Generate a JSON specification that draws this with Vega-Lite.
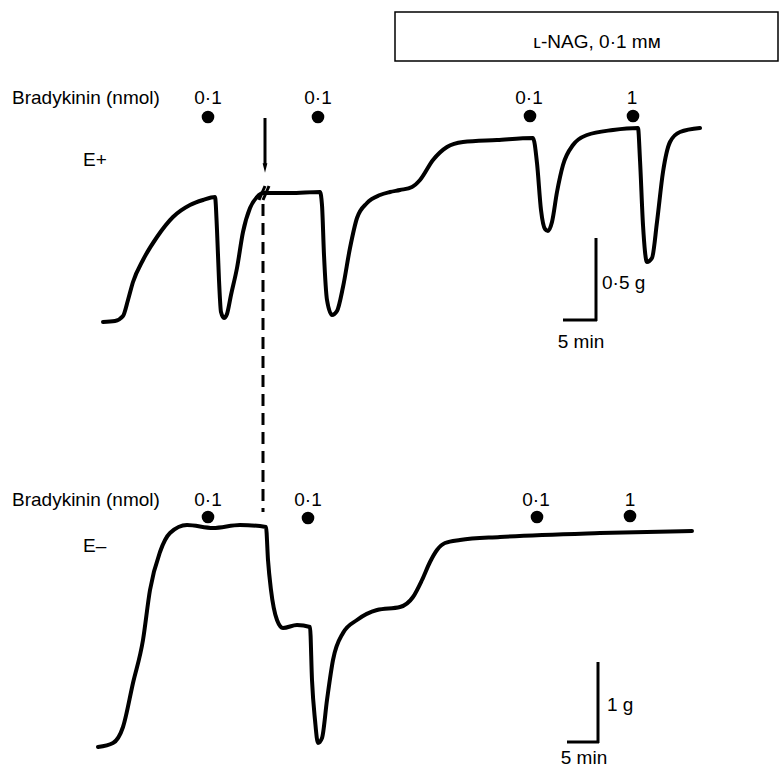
{
  "$schema": "https://vega.github.io/schema/vega-lite/v6.json",
  "width": 780,
  "height": 768,
  "autosize": {"type": "none"},
  "padding": 0,
  "background": "white",
  "config": {"view": {"stroke": null}, "text": {"font": "Liberation Sans", "fontSize": 19, "color": "black"}},
  "datasets": {
    "trace": [
      {"s": "E+", "i": 1, "t": 103, "v": 322}, {"s": "E+", "i": 2, "t": 115, "v": 321}, {"s": "E+", "i": 3, "t": 123, "v": 316}, {"s": "E+", "i": 4, "t": 128, "v": 300}, {"s": "E+", "i": 5, "t": 133, "v": 282}, {"s": "E+", "i": 6, "t": 143, "v": 260}, {"s": "E+", "i": 7, "t": 157, "v": 237}, {"s": "E+", "i": 8, "t": 173, "v": 217}, {"s": "E+", "i": 9, "t": 190, "v": 205}, {"s": "E+", "i": 10, "t": 203, "v": 200}, {"s": "E+", "i": 11, "t": 215, "v": 197}, {"s": "E+", "i": 12, "t": 217, "v": 230}, {"s": "E+", "i": 13, "t": 219, "v": 280}, {"s": "E+", "i": 14, "t": 221, "v": 312}, {"s": "E+", "i": 15, "t": 224, "v": 318}, {"s": "E+", "i": 16, "t": 227, "v": 314}, {"s": "E+", "i": 17, "t": 231, "v": 295}, {"s": "E+", "i": 18, "t": 237, "v": 268}, {"s": "E+", "i": 19, "t": 243, "v": 232}, {"s": "E+", "i": 20, "t": 250, "v": 208}, {"s": "E+", "i": 21, "t": 257, "v": 197}, {"s": "E+", "i": 22, "t": 263, "v": 193}, {"s": "E+", "i": 23, "t": 270, "v": 193}, {"s": "E+", "i": 24, "t": 290, "v": 193}, {"s": "E+", "i": 25, "t": 320, "v": 192}, {"s": "E+", "i": 26, "t": 322, "v": 205}, {"s": "E+", "i": 27, "t": 324, "v": 255}, {"s": "E+", "i": 28, "t": 327, "v": 300}, {"s": "E+", "i": 29, "t": 332, "v": 315}, {"s": "E+", "i": 30, "t": 337, "v": 311}, {"s": "E+", "i": 31, "t": 343, "v": 287}, {"s": "E+", "i": 32, "t": 350, "v": 248}, {"s": "E+", "i": 33, "t": 357, "v": 218}, {"s": "E+", "i": 34, "t": 367, "v": 203}, {"s": "E+", "i": 35, "t": 380, "v": 195}, {"s": "E+", "i": 36, "t": 390, "v": 192}, {"s": "E+", "i": 37, "t": 400, "v": 190}, {"s": "E+", "i": 38, "t": 412, "v": 187}, {"s": "E+", "i": 39, "t": 420, "v": 180}, {"s": "E+", "i": 40, "t": 433, "v": 160}, {"s": "E+", "i": 41, "t": 447, "v": 147}, {"s": "E+", "i": 42, "t": 463, "v": 142}, {"s": "E+", "i": 43, "t": 497, "v": 140}, {"s": "E+", "i": 44, "t": 533, "v": 138}, {"s": "E+", "i": 45, "t": 537, "v": 163}, {"s": "E+", "i": 46, "t": 541, "v": 210}, {"s": "E+", "i": 47, "t": 545, "v": 229}, {"s": "E+", "i": 48, "t": 548, "v": 231}, {"s": "E+", "i": 49, "t": 552, "v": 222}, {"s": "E+", "i": 50, "t": 557, "v": 192}, {"s": "E+", "i": 51, "t": 563, "v": 165}, {"s": "E+", "i": 52, "t": 573, "v": 145}, {"s": "E+", "i": 53, "t": 587, "v": 135}, {"s": "E+", "i": 54, "t": 613, "v": 130}, {"s": "E+", "i": 55, "t": 638, "v": 128}, {"s": "E+", "i": 56, "t": 640, "v": 160}, {"s": "E+", "i": 57, "t": 643, "v": 225}, {"s": "E+", "i": 58, "t": 647, "v": 262}, {"s": "E+", "i": 59, "t": 652, "v": 258}, {"s": "E+", "i": 60, "t": 657, "v": 222}, {"s": "E+", "i": 61, "t": 663, "v": 172}, {"s": "E+", "i": 62, "t": 670, "v": 142}, {"s": "E+", "i": 63, "t": 680, "v": 132}, {"s": "E+", "i": 64, "t": 700, "v": 128},
      {"s": "E-", "i": 1, "t": 98, "v": 747}, {"s": "E-", "i": 2, "t": 113, "v": 743}, {"s": "E-", "i": 3, "t": 123, "v": 727}, {"s": "E-", "i": 4, "t": 133, "v": 683}, {"s": "E-", "i": 5, "t": 143, "v": 640}, {"s": "E-", "i": 6, "t": 150, "v": 590}, {"s": "E-", "i": 7, "t": 160, "v": 552}, {"s": "E-", "i": 8, "t": 170, "v": 533}, {"s": "E-", "i": 9, "t": 187, "v": 525}, {"s": "E-", "i": 10, "t": 213, "v": 528}, {"s": "E-", "i": 11, "t": 240, "v": 525}, {"s": "E-", "i": 12, "t": 266, "v": 527}, {"s": "E-", "i": 13, "t": 268, "v": 560}, {"s": "E-", "i": 14, "t": 271, "v": 590}, {"s": "E-", "i": 15, "t": 277, "v": 620}, {"s": "E-", "i": 16, "t": 283, "v": 628}, {"s": "E-", "i": 17, "t": 297, "v": 625}, {"s": "E-", "i": 18, "t": 310, "v": 627}, {"s": "E-", "i": 19, "t": 312, "v": 680}, {"s": "E-", "i": 20, "t": 315, "v": 720}, {"s": "E-", "i": 21, "t": 318, "v": 743}, {"s": "E-", "i": 22, "t": 322, "v": 738}, {"s": "E-", "i": 23, "t": 327, "v": 700}, {"s": "E-", "i": 24, "t": 333, "v": 660}, {"s": "E-", "i": 25, "t": 343, "v": 633}, {"s": "E-", "i": 26, "t": 357, "v": 620}, {"s": "E-", "i": 27, "t": 377, "v": 610}, {"s": "E-", "i": 28, "t": 400, "v": 607}, {"s": "E-", "i": 29, "t": 413, "v": 597}, {"s": "E-", "i": 30, "t": 422, "v": 580}, {"s": "E-", "i": 31, "t": 430, "v": 562}, {"s": "E-", "i": 32, "t": 437, "v": 550}, {"s": "E-", "i": 33, "t": 445, "v": 543}, {"s": "E-", "i": 34, "t": 460, "v": 540}, {"s": "E-", "i": 35, "t": 500, "v": 537}, {"s": "E-", "i": 36, "t": 600, "v": 533}, {"s": "E-", "i": 37, "t": 692, "v": 531}
    ],
    "segments": [
      {"k": "bar", "t": 596, "v": 238, "t2": 596, "v2": 321},
      {"k": "bar", "t": 563, "v": 320, "t2": 597, "v2": 320},
      {"k": "bar", "t": 598, "v": 662, "t2": 598, "v2": 743},
      {"k": "bar", "t": 567, "v": 742, "t2": 599, "v2": 742},
      {"k": "bar", "t": 265, "v": 118, "t2": 265, "v2": 165},
      {"k": "brk", "t": 259, "v": 200, "t2": 265, "v2": 186},
      {"k": "brk", "t": 263, "v": 200, "t2": 269, "v2": 186}
    ],
    "dash": [{"t": 263, "v": 204, "t2": 263, "v2": 512}],
    "dots": [
      {"t": 208, "v": 117}, {"t": 318, "v": 117}, {"t": 530, "v": 116}, {"t": 633, "v": 116},
      {"t": 208, "v": 517}, {"t": 308, "v": 518}, {"t": 537, "v": 517}, {"t": 630, "v": 516}
    ],
    "leftLabels": [
      {"txt": "Bradykinin (nmol)", "t": 12, "v": 98},
      {"txt": "Bradykinin (nmol)", "t": 12, "v": 500},
      {"txt": "E+", "t": 83, "v": 160},
      {"txt": "E–", "t": 83, "v": 546},
      {"txt": "0·5 g", "t": 602, "v": 283},
      {"txt": "1 g", "t": 607, "v": 705}
    ],
    "centerLabels": [
      {"txt": "0·1", "t": 208, "v": 98},
      {"txt": "0·1", "t": 318, "v": 98},
      {"txt": "0·1", "t": 529, "v": 98},
      {"txt": "1", "t": 632, "v": 98},
      {"txt": "0·1", "t": 208, "v": 500},
      {"txt": "0·1", "t": 308, "v": 500},
      {"txt": "0·1", "t": 536, "v": 500},
      {"txt": "1", "t": 630, "v": 500},
      {"txt": "5 min", "t": 581, "v": 342},
      {"txt": "5 min", "t": 584, "v": 758},
      {"txt": "ʟ-NAG, 0·1 mᴍ", "t": 597, "v": 42}
    ],
    "box": [{"t": 395, "v": 12, "t2": 778, "v2": 61}]
  },
  "layer": [
    {
      "data": {"name": "box"},
      "mark": {"type": "rect", "fill": null, "stroke": "black", "strokeWidth": 1.5},
      "encoding": {
        "x": {"field": "t", "type": "quantitative", "scale": {"domain": [0, 780], "nice": false, "zero": false}, "axis": null},
        "x2": {"field": "t2"},
        "y": {"field": "v", "type": "quantitative", "scale": {"domain": [0, 768], "nice": false, "zero": false, "reverse": true}, "axis": null},
        "y2": {"field": "v2"}
      }
    },
    {
      "data": {"name": "trace"},
      "mark": {"type": "line", "color": "black", "strokeWidth": 4, "interpolate": "monotone", "strokeCap": "round", "strokeJoin": "round"},
      "encoding": {
        "x": {"field": "t", "type": "quantitative", "axis": null},
        "y": {"field": "v", "type": "quantitative", "axis": null},
        "detail": {"field": "s"},
        "order": {"field": "i", "type": "quantitative"}
      }
    },
    {
      "data": {"name": "segments"},
      "mark": {"type": "rule", "color": "black", "strokeWidth": 3},
      "encoding": {
        "x": {"field": "t", "type": "quantitative"},
        "x2": {"field": "t2"},
        "y": {"field": "v", "type": "quantitative"},
        "y2": {"field": "v2"}
      }
    },
    {
      "data": {"name": "dash"},
      "mark": {"type": "rule", "color": "black", "strokeWidth": 3, "strokeDash": [12, 7]},
      "encoding": {
        "x": {"field": "t", "type": "quantitative"},
        "x2": {"field": "t2"},
        "y": {"field": "v", "type": "quantitative"},
        "y2": {"field": "v2"}
      }
    },
    {
      "data": {"values": [{"t": 265, "v": 168}]},
      "mark": {"type": "point", "shape": "M-0.5,-1L0,1L0.5,-1Z", "filled": true, "color": "black", "opacity": 1, "size": 90},
      "encoding": {
        "x": {"field": "t", "type": "quantitative"},
        "y": {"field": "v", "type": "quantitative"}
      }
    },
    {
      "data": {"name": "dots"},
      "mark": {"type": "circle", "color": "black", "opacity": 1, "size": 160},
      "encoding": {
        "x": {"field": "t", "type": "quantitative"},
        "y": {"field": "v", "type": "quantitative"}
      }
    },
    {
      "data": {"name": "leftLabels"},
      "mark": {"type": "text", "baseline": "middle", "align": "left"},
      "encoding": {
        "x": {"field": "t", "type": "quantitative"},
        "y": {"field": "v", "type": "quantitative"},
        "text": {"field": "txt"}
      }
    },
    {
      "data": {"name": "centerLabels"},
      "mark": {"type": "text", "baseline": "middle", "align": "center"},
      "encoding": {
        "x": {"field": "t", "type": "quantitative"},
        "y": {"field": "v", "type": "quantitative"},
        "text": {"field": "txt"}
      }
    }
  ]
}
